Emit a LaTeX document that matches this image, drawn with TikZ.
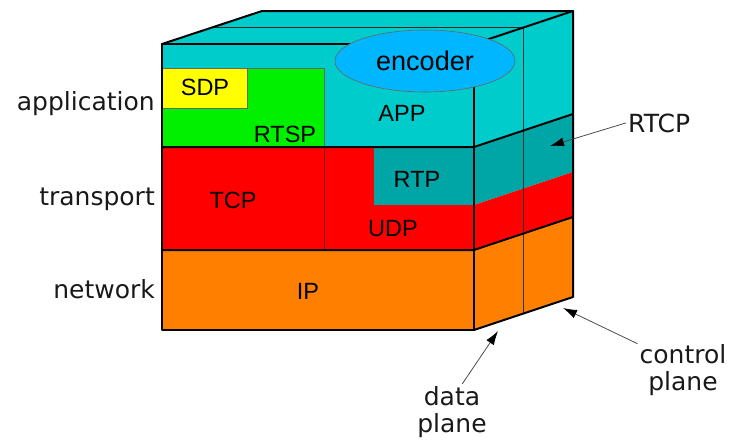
\documentclass[tikz,border=0pt]{standalone}
\usepackage{fontspec}
\setmainfont{Liberation Sans}
\newfontfamily\labelfont{DejaVu Sans}
\usetikzlibrary{arrows.meta,shapes.geometric}

\definecolor{appcyan}{RGB}{0,204,204}
\definecolor{rtpteal}{RGB}{0,166,166}
\definecolor{tcpred}{RGB}{255,0,0}
\definecolor{iporange}{RGB}{255,128,0}
\definecolor{rtspgreen}{RGB}{0,240,0}
\definecolor{sdpyellow}{RGB}{255,255,0}
\definecolor{encblue}{RGB}{0,183,255}
\definecolor{divred}{RGB}{140,0,0}

\begin{document}
\begin{tikzpicture}[x=1pt,y=-1pt,
  edge/.style={line width=2pt, line join=round, line cap=round},
  planeline/.style={line width=1.1pt, black!85},
  boxline/.style={line width=0.6pt, draw=black!60},
  proto/.style={font=\fontsize{23.5}{25}\selectfont, inner sep=0pt},
  side/.style={font=\labelfont\fontsize{25}{27.5}\selectfont, inner sep=2pt, text=black!90, align=center},
  pointer/.style={draw=black!70, line width=0.8pt, -{Latex[length=14pt,width=9pt,color=black]}}
]
\useasboundingbox (0,0) rectangle (730,439);

% front face layers
\fill[appcyan]  (162,44)  rectangle (474,147);
\fill[tcpred]   (162,147) rectangle (474,250);
\fill[iporange] (162,250) rectangle (474,330);
\fill[rtpteal]  (374,147) rectangle (474,205);
\draw[boxline, fill=rtspgreen] (162,68) rectangle (324,147);
\draw[boxline, fill=sdpyellow] (162,68) rectangle (247,108);
\draw[line width=0.7pt, divred] (324,147) -- (324,250);

% top face
\fill[appcyan] (162,44) -- (262,11) -- (573,11) -- (474,44) -- cycle;

% right face layers
\fill[appcyan]  (474,44)  -- (573,11)  -- (573,114) -- (474,147) -- cycle;
\fill[rtpteal]  (474,147) -- (573,114) -- (573,172) -- (474,205) -- cycle;
\fill[tcpred]   (474,205) -- (573,172) -- (573,217) -- (474,250) -- cycle;
\fill[iporange] (474,250) -- (573,217) -- (573,297) -- (474,330) -- cycle;

% data / control plane split
\draw[planeline] (212,27.5) -- (523.5,27.5);
\draw[line width=0.8pt, black!80] (523.5,27.5) -- (523.5,313.5);

% box edges
\draw[edge] (162,44) rectangle (474,330);
\draw[edge] (162,147) -- (474,147) -- (573,114);
\draw[edge] (162,250) -- (474,250) -- (573,217);
\draw[edge] (162,44) -- (262,11) -- (573,11) -- (573,297) -- (474,330);
\draw[edge] (474,44) -- (573,11);

% encoder
\node (enc) [ellipse, draw=black!60, line width=0.6pt, fill=encblue,
  minimum width=180pt, minimum height=62pt, inner sep=0pt,
  font=\fontsize{27}{29}\selectfont] at (425,61) {encoder};

% protocol names
\node (sdp)  [proto, anchor=base] at (205,95)  {SDP};
\node (rtsp) [proto, anchor=base] at (285,142) {RTSP};
\node (app)  [proto, anchor=base] at (402,121) {APP};
\node (tcp)  [proto, anchor=base] at (233,208) {TCP};
\node (rtp)  [proto, anchor=base] at (417,187) {RTP};
\node (udp)  [proto, anchor=base] at (393,236) {UDP};
\node (ip)   [proto, anchor=base] at (308,299) {IP};

% layer names
\node (lapp) [side, anchor=base east] at (157,110) {application};
\node (ltr)  [side, anchor=base east] at (157,205) {transport};
\node (lnet) [side, anchor=base east] at (157,298) {network};

% plane labels and pointers
\node (rtcp) [side, anchor=base west] at (626,132) {RTCP};
\node (ctrl) [side] at (683,370) {control\\plane};
\node (data) [side] at (452,412) {data\\plane};

\coordinate (rtcptip) at (550,146);
\coordinate (ctrltip) at (563,308);
\coordinate (datatip) at (498,331);

\draw[pointer] (rtcp.west) -- (rtcptip);
\draw[pointer] (ctrl.150) -- (ctrltip);
\draw[pointer] (data.70) -- (datatip);
\end{tikzpicture}
\end{document}
